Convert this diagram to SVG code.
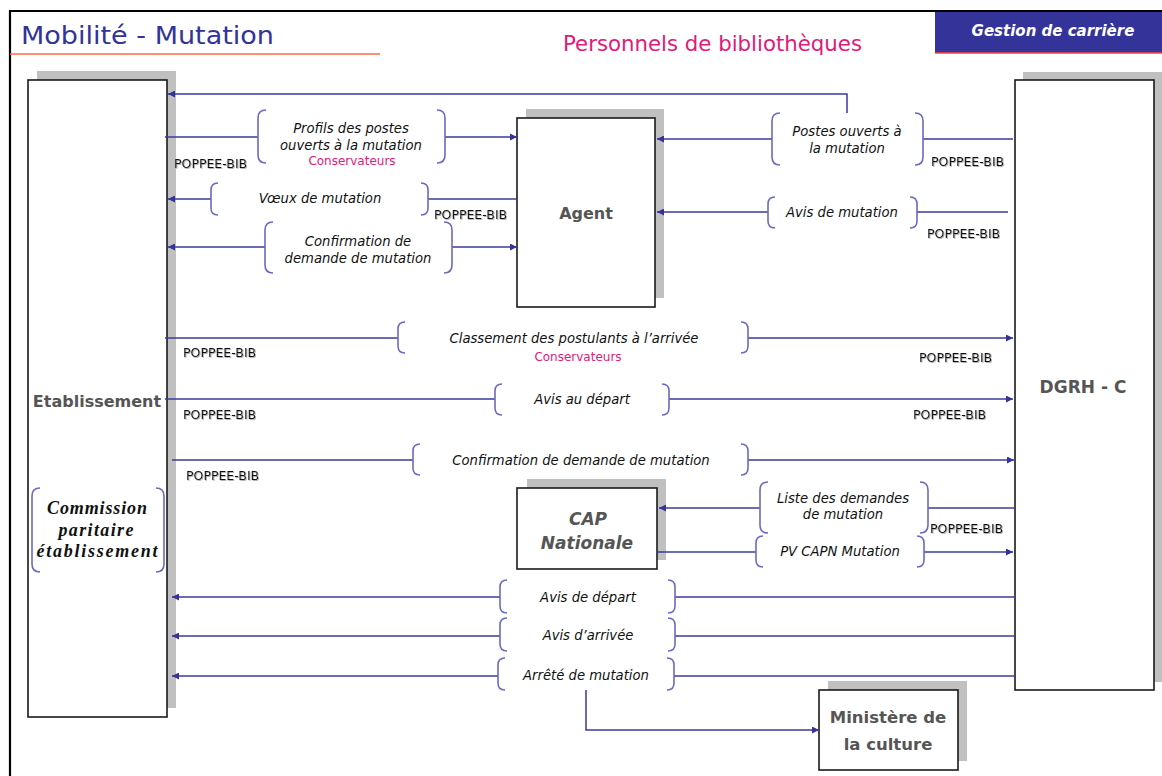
<svg xmlns="http://www.w3.org/2000/svg" width="1162" height="776" viewBox="0 0 1162 776">
  <defs>
    <marker id="arrow" viewBox="0 0 10 10" refX="10" refY="5" markerWidth="9" markerHeight="7" markerUnits="userSpaceOnUse" orient="auto">
      <path d="M0,0 L10,5 L0,10 z" fill="#333399"/>
    </marker>
    <filter id="soft" x="-5%" y="-20%" width="115%" height="160%">
      <feDropShadow dx="0.8" dy="0.8" stdDeviation="0.4" flood-color="#888" flood-opacity="0.8"/>
    </filter>
    <style>
      .flow { fill: none; stroke: #3a3a9e; stroke-width: 1.5; }
      .brk { fill: none; stroke: #6a6ac0; stroke-width: 1.6; }
      .shadow { fill: #c0c0c0; }
      .box { fill: #ffffff; stroke: #1a1a1a; stroke-width: 1.6; }
      .lbl { font-family: "DejaVu Sans", "Liberation Sans", sans-serif; font-style: italic; font-size: 13.2px; fill: #111; text-anchor: middle; }
      .cons { font-family: "DejaVu Sans", "Liberation Sans", sans-serif; font-size: 12px; fill: #e0197a; text-anchor: middle; }
      .tag { font-family: "DejaVu Sans", "Liberation Sans", sans-serif; font-size: 12.5px; fill: #111; filter: url(#soft); }
      .node { font-family: "DejaVu Sans", "Liberation Sans", sans-serif; font-weight: bold; fill: #555; text-anchor: middle; }
    </style>
  </defs>

  <!-- page frame and header -->
  <rect x="0" y="0" width="1162" height="776" fill="#ffffff"/>
  <path d="M10,776 V11 H1162" fill="none" stroke="#000" stroke-width="2.2"/>
  <text x="21" y="44" font-family="DejaVu Sans, sans-serif" font-size="25" fill="#333399" textLength="253" lengthAdjust="spacingAndGlyphs">Mobilité - Mutation</text>
  <line x1="10" y1="54" x2="380" y2="54" stroke="#ff6a3d" stroke-width="1.6"/>
  <text x="563" y="51" font-family="DejaVu Sans, sans-serif" font-size="20.5" fill="#e0197a" textLength="299" lengthAdjust="spacingAndGlyphs">Personnels de bibliothèques</text>
  <rect x="935" y="12" width="227" height="41" fill="#333399"/>
  <line x1="935" y1="53" x2="1162" y2="53" stroke="#ff4433" stroke-width="1.4"/>
  <text x="1053" y="36" font-family="DejaVu Sans, sans-serif" font-weight="bold" font-style="italic" font-size="15" fill="#ffffff" text-anchor="middle">Gestion de carrière</text>

  <!-- nodes -->
  <g id="etablissement">
    <rect class="shadow" x="37" y="71" width="139" height="637"/>
    <rect class="box" x="28" y="80" width="139" height="637"/>
    <text class="node" x="97" y="407" font-size="16">Etablissement</text>
  </g>
  <g id="commission">
    <path class="brk" d="M40,488 Q32,488 32,496 V564 Q32,572 40,572"/>
    <path class="brk" d="M156,488 Q164,488 164,496 V564 Q164,572 156,572"/>
    <g font-family="Liberation Serif, serif" font-weight="bold" font-style="italic" font-size="18" fill="#111" text-anchor="middle">
      <text x="97" y="514" textLength="100" lengthAdjust="spacing">Commission</text>
      <text x="96" y="536" textLength="75" lengthAdjust="spacing">paritaire</text>
      <text x="97" y="557" textLength="121" lengthAdjust="spacing">établissement</text>
    </g>
  </g>
  <g id="dgrh">
    <rect class="shadow" x="1023" y="72" width="139" height="610"/>
    <rect class="box" x="1015" y="80" width="139" height="610"/>
    <text class="node" x="1083" y="393" font-size="17">DGRH - C</text>
  </g>
  <g id="agent">
    <rect class="shadow" x="526" y="109" width="138" height="189"/>
    <rect class="box" x="517" y="118" width="138" height="189"/>
    <text class="node" x="586" y="219" font-size="16">Agent</text>
  </g>
  <g id="cap">
    <rect class="shadow" x="527" y="479" width="139" height="81"/>
    <rect class="box" x="517" y="488" width="140" height="81"/>
    <text class="node" x="588" y="525" font-size="17" font-style="italic" fill="#666">CAP</text>
    <text class="node" x="587" y="549" font-size="17" font-style="italic" fill="#666">Nationale</text>
  </g>
  <g id="ministere">
    <rect class="shadow" x="828" y="681" width="139" height="80"/>
    <rect class="box" x="819" y="690" width="139" height="80"/>
    <text class="node" x="888" y="723" font-size="16.5">Ministère de</text>
    <text class="node" x="888" y="750" font-size="16.5">la culture</text>
  </g>

  <!-- connectors -->
  <g id="connectors">
    <line class="flow" x1="165" y1="137" x2="258" y2="137"/>
    <line class="flow" x1="445" y1="137" x2="517" y2="137" marker-end="url(#arrow)"/>
    <line class="flow" x1="517" y1="199" x2="428" y2="199"/>
    <line class="flow" x1="211" y1="199" x2="168" y2="199" marker-end="url(#arrow)"/>
    <line class="flow" x1="265" y1="247" x2="168" y2="247" marker-end="url(#arrow)"/>
    <line class="flow" x1="452" y1="247" x2="517" y2="247" marker-end="url(#arrow)"/>
    <path class="flow" d="M847,113 V94 H168" marker-end="url(#arrow)"/>
    <line class="flow" x1="1013" y1="139" x2="923" y2="139"/>
    <line class="flow" x1="772" y1="139" x2="657" y2="139" marker-end="url(#arrow)"/>
    <line class="flow" x1="1008" y1="212" x2="917" y2="212"/>
    <line class="flow" x1="768" y1="212" x2="657" y2="212" marker-end="url(#arrow)"/>
    <line class="flow" x1="165" y1="338" x2="398" y2="338"/>
    <line class="flow" x1="748" y1="338" x2="1013" y2="338" marker-end="url(#arrow)"/>
    <line class="flow" x1="165" y1="399" x2="495" y2="399"/>
    <line class="flow" x1="669" y1="399" x2="1013" y2="399" marker-end="url(#arrow)"/>
    <line class="flow" x1="172" y1="460" x2="413" y2="460"/>
    <line class="flow" x1="748" y1="460" x2="1014" y2="460" marker-end="url(#arrow)"/>
    <line class="flow" x1="1015" y1="508" x2="928" y2="508"/>
    <line class="flow" x1="760" y1="508" x2="659" y2="508" marker-end="url(#arrow)"/>
    <line class="flow" x1="657" y1="552" x2="756" y2="552"/>
    <line class="flow" x1="924" y1="552" x2="1013" y2="552" marker-end="url(#arrow)"/>
    <line class="flow" x1="1015" y1="597" x2="675" y2="597"/>
    <line class="flow" x1="500" y1="597" x2="172" y2="597" marker-end="url(#arrow)"/>
    <line class="flow" x1="1015" y1="636" x2="675" y2="636"/>
    <line class="flow" x1="500" y1="636" x2="172" y2="636" marker-end="url(#arrow)"/>
    <line class="flow" x1="1015" y1="676" x2="674" y2="676"/>
    <line class="flow" x1="498" y1="676" x2="172" y2="676" marker-end="url(#arrow)"/>
    <path class="flow" d="M586,690 V730 H819" marker-end="url(#arrow)"/>
  </g>

  <!-- bracketed flow labels -->
  <g id="lbl-profils">
    <path class="brk" d="M266,110 Q258,110 258,118 V155 Q258,163 266,163"/>
    <path class="brk" d="M437,110 Q445,110 445,118 V155 Q445,163 437,163"/>
    <text class="lbl" x="351" y="133">Profils des postes</text>
    <text class="lbl" x="351" y="150">ouverts à la mutation</text>
    <text class="cons" x="352" y="165">Conservateurs</text>
  </g>
  <g id="lbl-voeux">
    <path class="brk" d="M218,183 Q211,183 211,190 V208 Q211,215 218,215"/>
    <path class="brk" d="M421,183 Q428,183 428,190 V208 Q428,215 421,215"/>
    <text class="lbl" x="320" y="203">Vœux de mutation</text>
  </g>
  <g id="lbl-confirm-agent">
    <path class="brk" d="M273,222 Q265,222 265,230 V265 Q265,273 273,273"/>
    <path class="brk" d="M444,222 Q452,222 452,230 V265 Q452,273 444,273"/>
    <text class="lbl" x="358" y="246">Confirmation de</text>
    <text class="lbl" x="358" y="263">demande de mutation</text>
  </g>
  <g id="lbl-postes">
    <path class="brk" d="M780,113 Q772,113 772,121 V157 Q772,165 780,165"/>
    <path class="brk" d="M915,113 Q923,113 923,121 V157 Q923,165 915,165"/>
    <text class="lbl" x="847" y="136">Postes ouverts à</text>
    <text class="lbl" x="847" y="153">la mutation</text>
  </g>
  <g id="lbl-avis-mutation">
    <path class="brk" d="M775,197 Q768,197 768,204 V221 Q768,228 775,228"/>
    <path class="brk" d="M910,197 Q917,197 917,204 V221 Q917,228 910,228"/>
    <text class="lbl" x="842" y="217">Avis de mutation</text>
  </g>
  <g id="lbl-classement">
    <path class="brk" d="M405,322 Q398,322 398,329 V346 Q398,353 405,353"/>
    <path class="brk" d="M741,322 Q748,322 748,329 V346 Q748,353 741,353"/>
    <text class="lbl" x="574" y="343">Classement des postulants à l’arrivée</text>
    <text class="cons" x="578" y="361">Conservateurs</text>
  </g>
  <g id="lbl-avis-au-depart">
    <path class="brk" d="M502,384 Q495,384 495,391 V408 Q495,415 502,415"/>
    <path class="brk" d="M662,384 Q669,384 669,391 V408 Q669,415 662,415"/>
    <text class="lbl" x="582" y="404">Avis au départ</text>
  </g>
  <g id="lbl-confirm-dgrh">
    <path class="brk" d="M420,444 Q413,444 413,451 V468 Q413,475 420,475"/>
    <path class="brk" d="M741,444 Q748,444 748,451 V468 Q748,475 741,475"/>
    <text class="lbl" x="581" y="465">Confirmation de demande de mutation</text>
  </g>
  <g id="lbl-liste">
    <path class="brk" d="M768,482 Q760,482 760,490 V525 Q760,533 768,533"/>
    <path class="brk" d="M920,482 Q928,482 928,490 V525 Q928,533 920,533"/>
    <text class="lbl" x="843" y="503">Liste des demandes</text>
    <text class="lbl" x="843" y="519">de mutation</text>
  </g>
  <g id="lbl-pv">
    <path class="brk" d="M763,536 Q756,536 756,543 V560 Q756,567 763,567"/>
    <path class="brk" d="M917,536 Q924,536 924,543 V560 Q924,567 917,567"/>
    <text class="lbl" x="840" y="556">PV CAPN Mutation</text>
  </g>
  <g id="lbl-avis-de-depart">
    <path class="brk" d="M507,580 Q500,580 500,587 V606 Q500,613 507,613"/>
    <path class="brk" d="M668,580 Q675,580 675,587 V606 Q675,613 668,613"/>
    <text class="lbl" x="588" y="602">Avis de départ</text>
  </g>
  <g id="lbl-avis-arrivee">
    <path class="brk" d="M507,618 Q500,618 500,625 V644 Q500,651 507,651"/>
    <path class="brk" d="M668,618 Q675,618 675,625 V644 Q675,651 668,651"/>
    <text class="lbl" x="588" y="640">Avis d’arrivée</text>
  </g>
  <g id="lbl-arrete">
    <path class="brk" d="M505,658 Q498,658 498,665 V683 Q498,690 505,690"/>
    <path class="brk" d="M667,658 Q674,658 674,665 V683 Q674,690 667,690"/>
    <text class="lbl" x="586" y="680">Arrêté de mutation</text>
  </g>

  <!-- transport tags -->
  <g id="tags">
    <text class="tag" x="174" y="168">POPPEE-BIB</text>
    <text class="tag" x="434" y="219">POPPEE-BIB</text>
    <text class="tag" x="931" y="166">POPPEE-BIB</text>
    <text class="tag" x="927" y="238">POPPEE-BIB</text>
    <text class="tag" x="183" y="357">POPPEE-BIB</text>
    <text class="tag" x="919" y="362">POPPEE-BIB</text>
    <text class="tag" x="183" y="419">POPPEE-BIB</text>
    <text class="tag" x="913" y="419">POPPEE-BIB</text>
    <text class="tag" x="186" y="480">POPPEE-BIB</text>
    <text class="tag" x="930" y="533">POPPEE-BIB</text>
  </g>
</svg>
